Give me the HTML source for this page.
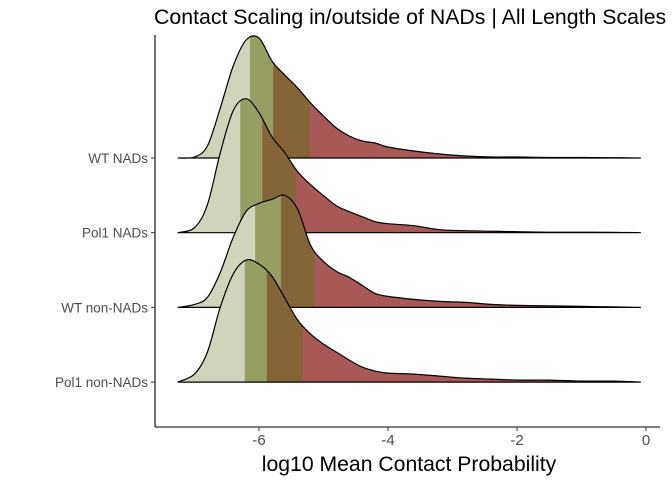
<!DOCTYPE html>
<html><head><meta charset="utf-8"><style>
body{margin:0;background:#fff}
svg{display:block;font-family:"Liberation Sans",Arial,sans-serif}
</style></head><body>
<svg id="chart" width="672" height="480" viewBox="0 0 672 480">
<text x="154" y="24" font-size="21.3" fill="#000">Contact Scaling in/outside of NADs | All Length Scales</text>
<g id="ridges"></g>
<line x1="155" y1="35" x2="155" y2="427" stroke="#000" stroke-width="1.1"/>
<line x1="155" y1="427" x2="660" y2="427" stroke="#000" stroke-width="1.1"/>
<g id="yaxis"></g>
<g id="xaxis"></g>
<text x="409" y="471" font-size="21.2" text-anchor="middle" fill="#000">log10 Mean Contact Probability</text>
</svg>
<script>
const categories = ["WT NADs","Pol1 NADs","WT non-NADs","Pol1 non-NADs"];
const gridX = [-7.26,-7.0,-6.8,-6.6,-6.4,-6.2,-6.0,-5.8,-5.6,-5.4,-5.2,-5.0,-4.8,-4.6,-4.4,-4.2,-4.0,-3.6,-3.2,-2.8,-2.4,-2.0,-1.5,-1.0,-0.5,-0.08];
const densWT_NAD   = [0,1,12,50,92,118,120,97,83,70,55,42,30,22,17,15,11,7,4,2,1,1,0.5,0.5,0.3,0];
const densPol1_NAD = [0,5,28,80,122,134,120,96,80,61,48,37,27,21,16,11,9,7,3,2,1.5,1,0.5,0.5,0.3,0];
const densWT_non   = [0,3,10,35,70,96,104,108,112,98,62,46,36,30,22,14,11,8,6,5,3,2,1.5,1,0.5,0];
const densPol1_non = [0,8,30,75,108,122,118,106,84,62,48,38,30,22,15,11,9,8,6,4,3,2,2,1,1,0];
const quantiles = [[-6.14,-5.78,-5.21],[-6.29,-5.95,-5.43],[-6.06,-5.66,-5.13],[-6.22,-5.88,-5.32]];
const xTicks = [-6,-4,-2,0];
const xTickLabels = ["-6","-4","-2","0"];

const series=[densWT_NAD,densPol1_NAD,densWT_non,densPol1_non];
const NS="http://www.w3.org/2000/svg";
function xScale(v){return 646+64.5*v;}
function yBase(i){return 158+74.7*i;}
function hScale(d){return d*1.0;}
const colors=["#d1d4bc","#979e62","#836537","#a85856"];
function curvePath(pts){
  let d="M"+pts[0][0]+","+pts[0][1];
  for(let i=0;i<pts.length-1;i++){
    const p0=pts[Math.max(0,i-1)],p1=pts[i],p2=pts[i+1],p3=pts[Math.min(pts.length-1,i+2)];
    const c1x=p1[0]+(p2[0]-p0[0])/6,c1y=p1[1]+(p2[1]-p0[1])/6;
    const c2x=p2[0]-(p3[0]-p1[0])/6,c2y=p2[1]-(p3[1]-p1[1])/6;
    d+=" C"+c1x.toFixed(2)+","+c1y.toFixed(2)+" "+c2x.toFixed(2)+","+c2y.toFixed(2)+" "+p2[0].toFixed(2)+","+p2[1].toFixed(2);
  }
  return d;
}
const ridges=document.getElementById("ridges");
const defs=document.createElementNS(NS,"defs");ridges.appendChild(defs);
series.forEach((s,i)=>{
  const b=yBase(i);
  const pts=gridX.map((x,k)=>[xScale(x),Math.min(b,b-hScale(s[k]))]);
  const top=curvePath(pts);
  const x0=xScale(gridX[0]),x1=xScale(gridX[gridX.length-1]);
  const area=top+" L"+x1+","+b+" L"+x0+","+b+" Z";
  const g=document.createElementNS(NS,"g");
  
  
  const cp=document.createElementNS(NS,"clipPath");cp.setAttribute("id","cp"+i);
  const cpp=document.createElementNS(NS,"path");cpp.setAttribute("d",area);cp.appendChild(cpp);defs.appendChild(cp);
  const bounds=[gridX[0]].concat(quantiles[i]).concat([gridX[gridX.length-1]]);
  for(let q=0;q<4;q++){
    const r=document.createElementNS(NS,"rect");
    
    
    const xa=xScale(bounds[q]),xb=xScale(bounds[q+1]);
    r.setAttribute("x",xa);r.setAttribute("width",xb-xa+0.3);
    r.setAttribute("y",b-200);r.setAttribute("height",200);
    r.setAttribute("fill",colors[q]);r.setAttribute("clip-path","url(#cp"+i+")");
    g.appendChild(r);
  }
  const ln=document.createElementNS(NS,"path");
  
  
  ln.setAttribute("d",top+" L"+x1+","+b+" L"+x0+","+b+" Z");
  ln.setAttribute("fill","none");ln.setAttribute("stroke","#000");ln.setAttribute("stroke-width","1.2");
  g.appendChild(ln);
  ridges.appendChild(g);
});
const ya=document.getElementById("yaxis");
categories.forEach((c,i)=>{
  const y=yBase(i);
  const t=document.createElementNS(NS,"line");
  
  
  t.setAttribute("x1",151);t.setAttribute("x2",155);t.setAttribute("y1",y);t.setAttribute("y2",y);t.setAttribute("stroke","#333");
  ya.appendChild(t);
  const tx=document.createElementNS(NS,"text");
  
  
  tx.setAttribute("x",148);tx.setAttribute("y",y+5);tx.setAttribute("text-anchor","end");
  tx.setAttribute("font-size","13.5");tx.setAttribute("fill","#4d4d4d");tx.textContent=c;
  ya.appendChild(tx);
});
const xa=document.getElementById("xaxis");
xTicks.forEach((v,i)=>{
  const x=xScale(v);
  const t=document.createElementNS(NS,"line");
  
  
  t.setAttribute("x1",x);t.setAttribute("x2",x);t.setAttribute("y1",427);t.setAttribute("y2",431);t.setAttribute("stroke","#333");
  xa.appendChild(t);
  const tx=document.createElementNS(NS,"text");
  
  
  tx.setAttribute("x",x);tx.setAttribute("y",445);tx.setAttribute("text-anchor","middle");
  tx.setAttribute("font-size","15");tx.setAttribute("fill","#4d4d4d");tx.textContent=xTickLabels[i];
  xa.appendChild(tx);
});
</script>
</body></html>
